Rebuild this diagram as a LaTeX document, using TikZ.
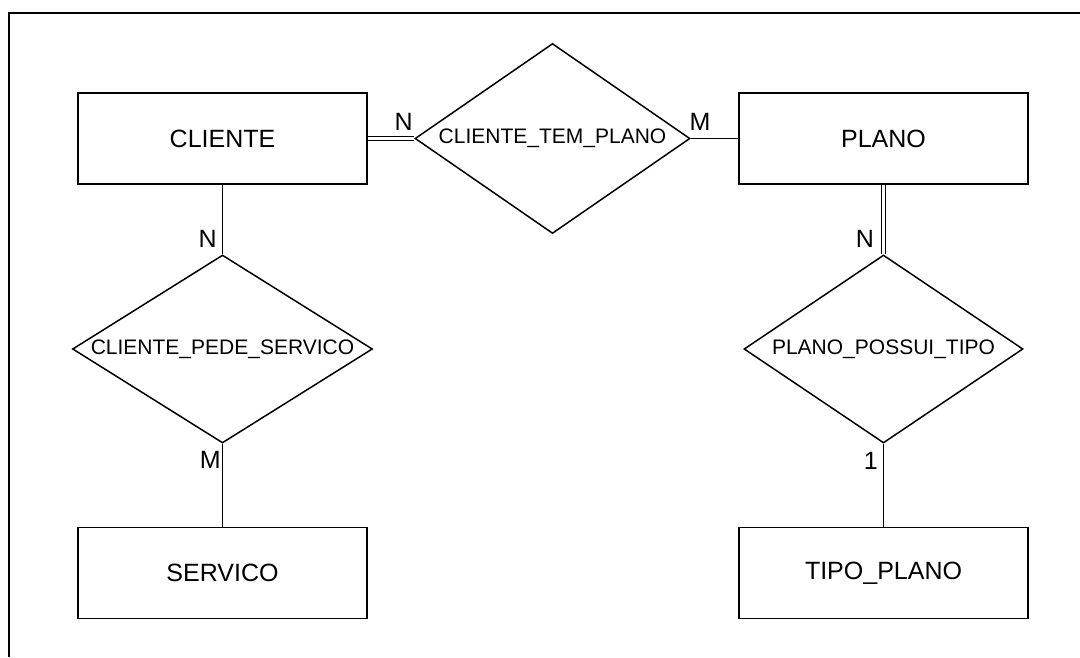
\documentclass[tikz,border=0pt]{standalone}
\usepackage{fontspec}
\setmainfont{Liberation Sans}
\usetikzlibrary{positioning,shapes.geometric}

\begin{document}
\begin{tikzpicture}[%
            x=1pt, y=-1pt,
            on grid,
            entidade/.style={draw, line width=1.5pt, minimum width=289pt, minimum height=91pt, inner sep=0pt, font=\fontsize{25}{30}\selectfont},
            relacao/.style={draw, diamond, line width=1.5pt, inner sep=0pt, font=\fontsize{21}{25}\selectfont},
            card/.style={font=\fontsize{25}{30}\selectfont, inner sep=1pt},
            liga/.style={line width=1.5pt},
            dupla/.style={double, double distance=2.5pt, line width=1.3pt}
            ]
            \useasboundingbox (0,0) rectangle (1080,657);
            \draw[line width=1.8pt] (1080,13) -- (9,13) -- (9,657);

            \node[entidade] (cliente) at (222.5,138.5) {CLIENTE};
            \node[relacao, minimum width=275pt, minimum height=190pt, aspect=1.45] (tem) [right=330pt of cliente] {CLIENTE\_TEM\_PLANO};
            \node[entidade] (plano) [right=331pt of tem] {PLANO};
            \node[relacao, minimum width=300pt, minimum height=188pt, aspect=1.6] (pede) [below=210.5pt of cliente] {CLIENTE\_PEDE\_SERVICO};
            \node[entidade] (servico) [below=224pt of pede] {SERVICO};
            \node[relacao, minimum width=279pt, minimum height=188pt, aspect=1.48] (possui) [below=210.5pt of plano] {PLANO\_POSSUI\_TIPO};
            \node[entidade] (tipo) [below=224pt of possui] {TIPO\_PLANO};

            \draw[dupla] (cliente) -- node[card, pos=1, above left, yshift=6pt] (nTem) {N} (tem);
            \draw[liga] (tem) -- node[card, pos=0, above right, xshift=-3pt, yshift=6pt] (mTem) {M} (plano);
            \draw[liga] (cliente) -- node[card, pos=1, above left, xshift=-4pt, yshift=5pt] (nPede) {N} (pede);
            \draw[liga] (pede) -- node[card, pos=0, below left, yshift=-6pt] (mPede) {M} (servico);
            \draw[dupla] (plano) -- node[card, pos=1, above left, xshift=-8pt, yshift=5pt] (nPossui) {N} (possui);
            \draw[liga] (possui) -- node[card, pos=0, below left, xshift=-4pt, yshift=-7pt] (umPossui) {1} (tipo);
        \end{tikzpicture}
\end{document}
